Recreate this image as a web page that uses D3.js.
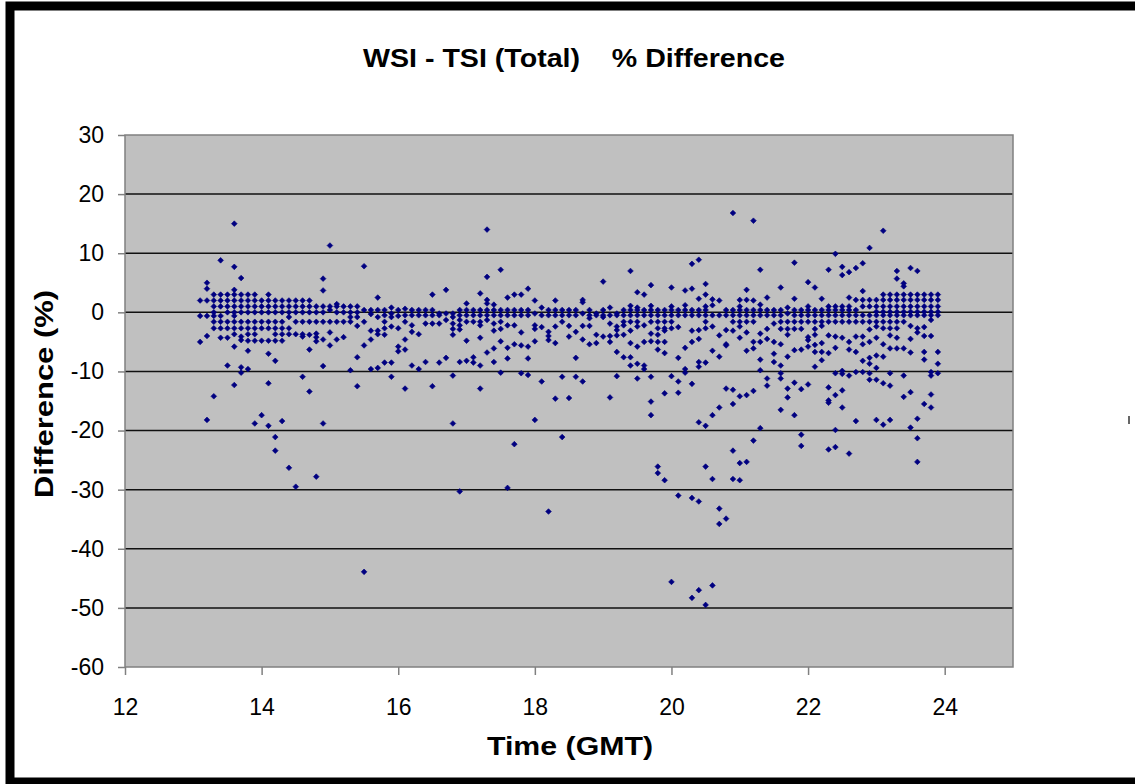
<!DOCTYPE html>
<html>
<head>
<meta charset="utf-8">
<script src="https://cdn.jsdelivr.net/npm/d3@7"></script>
<style>
  body { margin: 0; background: #fff; }
  text { font-family: Arial, "Liberation Sans", sans-serif; }
</style>
</head>
<body>
<div id="chart"></div>
<script>
// each hour holds ten columns: index i is hour + i/10, values are % difference
const hour13 = [
  [],
  [2.0, -0.6, -5.0],
  [5.0, 4.0, 2.0, -0.6, -4.0, -18.2],
  [3.0, 2.0, 1.0, 0, -0.6, -1.6, -2.7, -14.2],
  [8.8, 3.0, 2.0, 1.0, -0.6, -1.6, -2.7, -4.3],
  [3.0, 2.0, 1.0, 0, -1.6, -2.7, -4.3, -9.0],
  [15.0, 7.7, 3.8, 3.0, 2.0, 1.0, 0, -0.6, -1.6, -2.7, -3.7, -5.8, -12.3],
  [5.8, 3.0, 2.0, 1.0, 0, -1.6, -2.7, -4.1, -4.7, -9.3, -10.2],
  [3.0, 2.0, 1.0, 0, -1.6, -2.7, -3.7, -4.8, -6.5, -9.6],
  [3.0, 2.0, 1.0, 0, -1.6, -2.7, -3.7, -4.8, -18.8]
];
const hour14 = [
  [2.0, 1.0, 0, -1.6, -2.7, -4.8, -17.4],
  [3.0, 2.0, 1.0, 0, -1.6, -2.7, -4.8, -7.0, -12.0, -19.2],
  [2.0, 1.0, 0, -1.6, -2.7, -3.7, -4.8, -8.2, -21.1, -23.4],
  [2.0, 1.0, 0, -1.6, -2.7, -3.7, -4.8, -18.4],
  [2.0, 1.0, 0, -0.8, -2.7, -3.7, -26.3],
  [2.0, 1.0, 0, -1.6, -3.7, -29.5],
  [2.0, 1.0, 0, -1.6, -3.7, -4.1, -10.9],
  [2.0, 1.0, 0, -1.6, -3.8, -6.3, -13.4],
  [1.0, 0, -1.6, -3.6, -4.2, -4.9, -27.8],
  [5.7, 3.7, 1.0, 0, -1.6, -4.6, -9.1, -18.8]
];
const hour15 = [
  [11.3, 1.0, 0.4, -1.6, -3.4, -5.6],
  [1.4, 1.0, 0, -1.6, -4.6],
  [1.0, 0, -1.6, -4.2],
  [1.0, 0, -0.8, -1.6, -9.8],
  [1.0, 0, -0.8, -2.3, -7.6, -12.5],
  [7.8, 0.4, -1.6, -5.6, -43.9],
  [0.4, -0.3, -3.1, -4.6, -9.6],
  [2.5, 0.4, -0.8, -3.1, -3.7, -9.4],
  [0.4, -0.5, -1.6, -2.7, -3.8, -8.5],
  [0.8, -0.2, -0.8, -2.4, -8.5, -10.9]
];
const hour16 = [
  [0.4, -0.6, -2.7, -5.8, -6.6],
  [0.6, -0.5, -1.6, -4.6, -6.3, -12.9],
  [0.4, -0.5, -2.2, -3.3, -9.0],
  [0.4, -0.5, -3.7, -9.6],
  [0.4, -0.5, -1.9, -8.4],
  [3.0, 0.4, -0.5, -1.9, -12.5],
  [-0.2, -0.5, -1.9, -8.5],
  [3.8, -0.2, -1.3, -7.7],
  [-0.2, -0.8, -1.9, -2.8, -3.8, -10.7, -18.8],
  [0.4, -0.5, -1.3, -2.2, -2.9, -8.4, -30.3]
];
const hour17 = [
  [1.5, 0.4, -0.5, -1.6, -4.8, -8.2],
  [0.4, -0.5, -1.6, -7.6, -8.5],
  [3.2, 0.4, -0.5, -1.6, -2.2, -4.3, -9.0, -12.9],
  [14.0, 6.0, 2.1, 1.5, 0.4, -0.5, -1.3, -6.8],
  [1.3, 0.4, -0.5, -1.9, -3.1, -6.1, -8.4],
  [7.2, 0.4, -0.5, -1.6, -2.8, -4.9, -10.2],
  [2.5, 0.4, -0.5, -2.2, -6.0, -7.8, -29.7],
  [3.0, 0.4, -0.5, -2.2, -5.4, -22.3],
  [3.0, 0.4, -0.5, -3.4, -5.6, -10.3],
  [4.0, 0.4, -0.5, -5.8, -7.8, -10.6]
];
const hour18 = [
  [2.0, -0.2, -2.2, -2.8, -4.9, -18.2],
  [0.8, -0.5, -2.5, -11.7],
  [0.4, -0.5, -3.3, -4.0, -4.7, -33.7],
  [2.0, 0.4, -0.5, -2.4, -5.2, -14.6],
  [0.4, -0.5, -1.6, -10.9, -21.1],
  [0.4, -0.5, -2.3, -4.1, -14.5],
  [0.4, -0.5, -3.3, -7.7, -10.9],
  [2.1, 1.7, -0.2, -2.3, -4.6, -11.7],
  [0.4, -0.5, -1.0, -2.3, -5.4],
  [-0.2, -0.5, -3.8, -5.2]
];
const hour19 = [
  [5.2, 0.4, -0.5, -0.8, -4.1],
  [0.8, -0.5, -1.9, -4.0, -5.0, -14.4],
  [-0.2, -0.5, -2.4, -3.0, -3.9, -6.7, -10.8],
  [0.4, -0.5, -1.6, -2.2, -3.8, -7.6],
  [7.0, 1.1, 0.4, -0.5, -1.6, -3.1, -5.2, -7.6, -9.0],
  [3.4, 0.8, 0.4, -0.5, -1.6, -2.4, -5.8, -8.7, -11.2],
  [3.0, 0.4, -0.5, -2.2, -5.0, -9.0, -9.6],
  [4.6, 1.1, 0.4, -0.5, -1.6, -3.6, -4.9, -10.9, -15.1, -17.4],
  [0.4, -0.5, -1.6, -2.7, -3.8, -5.0, -6.3, -26.1, -27.2],
  [0.4, -0.5, -1.6, -2.7, -3.1, -5.0, -6.9, -13.7, -28.4]
];
const hour20 = [
  [4.2, 1.0, 0.4, -0.5, -1.6, -2.7, -10.8, -45.6],
  [0.4, -0.5, -2.5, -7.7, -11.7, -13.6, -31.0],
  [3.7, 1.2, 0.4, -0.5, -6.0, -9.6, -10.2],
  [8.2, 4.0, 0.4, -0.5, -3.1, -5.0, -12.1, -31.4, -48.3],
  [8.9, 2.3, 0.4, -0.5, -3.0, -4.5, -8.4, -9.2, -18.6, -32.0, -47.0],
  [4.8, 3.0, 1.0, 0.4, -0.5, -1.6, -2.7, -8.5, -19.2, -26.1, -49.5],
  [2.2, 1.2, -0.5, -2.4, -6.5, -17.4, -28.2, -46.2],
  [2.0, -0.5, -3.9, -7.5, -16.1, -33.2, -35.8],
  [0.4, -0.5, -3.0, -5.4, -5.6, -12.9, -34.9],
  [16.8, 0.4, -0.5, -1.6, -3.1, -13.1, -15.5, -23.4, -28.2]
];
const hour21 = [
  [2.1, 1.0, 0.4, -0.5, -1.6, -2.4, -4.3, -14.2, -25.5, -28.4],
  [3.8, 2.1, 0.4, -0.5, -1.6, -3.4, -6.5, -14.0, -25.3],
  [15.5, 2.0, 0.4, -0.5, -1.6, -5.0, -6.1, -13.3, -21.7],
  [7.2, 1.3, 0.4, -0.5, -3.6, -5.0, -8.0, -9.8, -19.6],
  [2.5, 0.4, -0.5, -2.8, -4.5, -11.2, -12.4],
  [0.4, -0.5, -1.9, -5.0, -7.0, -8.4],
  [4.2, 0.4, -0.5, -1.6, -2.8, -5.4, -9.0, -10.3, -11.2, -16.5],
  [0.8, -0.2, -1.6, -2.8, -3.8, -7.5, -12.9, -14.4],
  [8.4, 2.3, 0.4, -0.5, -1.6, -2.8, -6.4, -11.9, -17.4],
  [0.4, -0.5, -1.6, -2.8, -6.3, -13.0, -20.7, -22.6]
];
const hour22 = [
  [5.1, 1.0, 0.4, -0.5, -1.6, -4.2, -4.7, -5.8, -12.2],
  [4.2, 0.4, -0.5, -1.6, -2.8, -3.8, -5.5, -6.7, -9.2],
  [2.3, 0.4, -0.5, -1.6, -2.3, -5.2, -6.7, -8.1],
  [7.2, 1.0, 0.4, -0.5, -1.6, -3.9, -6.9, -12.7, -14.9, -15.3, -23.2],
  [9.9, 1.0, 0.4, -0.5, -1.6, -4.1, -6.0, -10.3, -14.0, -19.9, -22.8],
  [7.7, 6.3, 1.0, 0.4, -0.5, -1.6, -4.3, -9.9, -10.4, -13.2, -16.1],
  [6.8, 2.5, 1.0, 0.4, -0.5, -1.6, -5.0, -6.3, -10.7, -23.9],
  [7.5, 2.1, 0.4, -0.5, -1.6, -4.1, -6.7, -10.1, -18.4],
  [8.3, 3.6, 2.1, 1.0, -0.5, -1.6, -4.1, -5.4, -8.2, -10.1],
  [10.9, 2.1, 1.0, -0.5, -1.6, -2.9, -5.0, -7.7, -8.7, -10.3, -11.4]
];
const hour23 = [
  [2.1, 1.0, 0.1, -0.5, -1.6, -2.4, -4.3, -7.3, -9.4, -11.4, -18.2],
  [13.8, 3.0, 2.1, 1.0, 0.1, -0.5, -1.6, -2.7, -5.4, -7.5, -12.0, -19.0],
  [3.0, 2.1, 1.0, 0.1, -0.5, -1.6, -2.7, -3.9, -6.1, -10.3, -12.4, -18.2],
  [7.0, 5.7, 3.0, 2.1, 1.0, 0.1, -0.5, -1.6, -2.7, -4.3, -6.1],
  [4.9, 4.4, 3.0, 2.1, 1.0, 0.1, -0.5, -1.6, -6.1, -10.7, -14.3],
  [7.5, 3.0, 2.1, 1.0, 0.1, -0.5, -2.3, -4.5, -6.8, -13.5, -19.5],
  [7.0, 3.0, 2.1, 1.0, 0.1, -0.5, -2.7, -3.4, -18.0, -21.3, -25.3],
  [3.0, 2.1, 1.0, 0.1, -0.5, -2.5, -4.0, -6.7, -8.0, -15.5],
  [3.0, 2.1, 1.0, 0.1, -0.5, -1.3, -4.0, -10.1, -10.7, -13.9, -16.1],
  [3.0, 2.1, 1.0, 0.1, -0.5, -6.7, -8.7, -10.3]
];
const hours = [13, 14, 15, 16, 17, 18, 19, 20, 21, 22, 23];
const hourCols = [hour13, hour14, hour15, hour16, hour17, hour18, hour19, hour20, hour21, hour22, hour23];

const xTicks = [12, 14, 16, 18, 20, 22, 24];
const yTicks = [30, 20, 10, 0, -10, -20, -30, -40, -50, -60];
const gridVals = [20, 10, 0, -10, -20, -30, -40, -50];

// flatten into points
const points = [];
hourCols.forEach((cols, h) => {
  cols.forEach((vals, i) => {
    vals.forEach(v => points.push({t: hours[h] + i / 10, v: v}));
  });
});

const W = 1135, H = 784;
const svg = d3.select('#chart').append('svg')
  .attr('width', W)
  .attr('height', H);

svg.append('rect')
  .attr('width', W).attr('height', H)
  .attr('fill', '#fff');

const x = d3.scaleLinear().domain([12, 25]).range([125, 1013]);
const y = d3.scaleLinear().domain([-60, 30]).range([667, 135]);

// plot area
svg.append('rect')
  .attr('x', x(12)).attr('y', y(30))
  .attr('width', x(25) - x(12)).attr('height', y(-60) - y(30))
  .attr('fill', '#c0c0c0');

svg.append('g')
  .selectAll('line')
  .data(gridVals)
  .join('line')
  .attr('x1', x(12)).attr('x2', x(25))
  .attr('y1', d => y(d)).attr('y2', d => y(d))
  .attr('stroke', '#111')
  .attr('stroke-width', 1.5);

svg.append('rect')
  .attr('x', x(12)).attr('y', y(30))
  .attr('width', x(25) - x(12)).attr('height', y(-60) - y(30))
  .attr('fill', 'none')
  .attr('stroke', '#808080')
  .attr('stroke-width', 1.5);

// points
const marker = d3.symbol().type(d3.symbolSquare).size(16);
svg.append('g')
  .selectAll('path')
  .data(points)
  .join('path')
  .attr('d', marker)
  .attr('transform', d => `translate(${x(d.t)},${y(d.v)}) rotate(45)`)
  .attr('fill', '#000080')
  .attr('stroke', '#000080')
  .attr('stroke-width', 0.6);

// axes (plain hyphen for negatives, like the original)
const fmt = d => String(d);
const xAxis = svg.append('g')
  .attr('transform', `translate(0,${y(-60)})`)
  .call(d3.axisBottom(x).tickValues(xTicks).tickFormat(fmt).tickSize(8).tickPadding(24));
const yAxis = svg.append('g')
  .attr('transform', `translate(${x(12)},0)`)
  .call(d3.axisLeft(y).tickValues(yTicks).tickFormat(fmt).tickSize(7).tickPadding(14));

[xAxis, yAxis].forEach(g => {
  g.select('.domain').remove();
  g.selectAll('.tick line').attr('stroke', '#808080').attr('stroke-width', 1.5);
  g.selectAll('.tick text')
    .attr('fill', '#000')
    .style('font-size', '23px')
    .style('font-family', 'Arial, "Liberation Sans", sans-serif');
});

// titles
svg.append('text')
  .attr('x', 574).attr('y', 67)
  .attr('text-anchor', 'middle')
  .attr('textLength', 422)
  .attr('lengthAdjust', 'spacingAndGlyphs')
  .style('font-size', '25px')
  .style('font-weight', 'bold')
  .style('white-space', 'pre')
  .text('WSI - TSI (Total)    % Difference');

svg.append('text')
  .attr('x', 570).attr('y', 755)
  .attr('text-anchor', 'middle')
  .attr('textLength', 166)
  .attr('lengthAdjust', 'spacingAndGlyphs')
  .style('font-size', '25px')
  .style('font-weight', 'bold')
  .text('Time (GMT)');

svg.append('text')
  .attr('transform', 'translate(53,394) rotate(-90)')
  .attr('text-anchor', 'middle')
  .attr('textLength', 208)
  .attr('lengthAdjust', 'spacingAndGlyphs')
  .style('font-size', '25px')
  .style('font-weight', 'bold')
  .text('Difference (%)');

// outer frame
svg.append('rect')
  .attr('x', 10).attr('y', 6)
  .attr('width', 1160).attr('height', 776)
  .attr('fill', 'none')
  .attr('stroke', '#000')
  .attr('stroke-width', 9);

svg.append('line')
  .attr('x1', 1129).attr('x2', 1129)
  .attr('y1', 416).attr('y2', 424)
  .attr('stroke', '#666')
  .attr('stroke-width', 2);
</script>
</body>
</html>
